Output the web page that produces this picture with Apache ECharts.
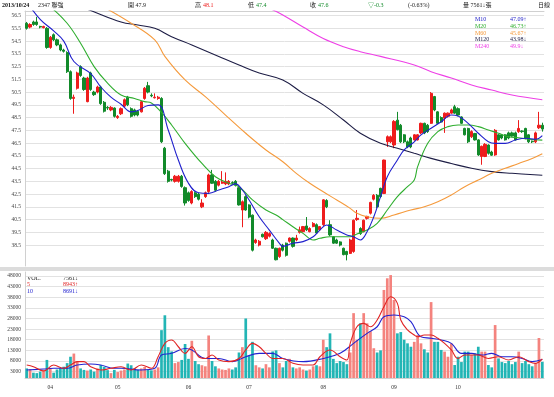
<!DOCTYPE html>
<html>
<head>
<meta charset="utf-8">
<script src="https://cdn.jsdelivr.net/npm/echarts@6/dist/echarts.min.js"></script>
<style>
  html, body { margin: 0; padding: 0; background: #fff; }
  #chart { width: 554px; height: 397px; }
</style>
</head>
<body>
<div id="chart"></div>
<script>
// 日K資料：[開, 收, 低, 高]
const candles = [
  [55.9, 55.5, 55.4, 56.0], [55.6, 55.8, 55.5, 55.9], [56.0, 55.8, 55.7, 56.1], [56.0, 55.8, 55.7, 56.4],
  [55.65, 55.6, 55.5, 55.7], [55.55, 55.65, 55.5, 55.7], [55.5, 54.0, 53.9, 55.6], [54.0, 54.8, 53.9, 54.9],
  [55.0, 54.6, 54.5, 55.1], [54.6, 54.2, 54.1, 54.7], [54.2, 53.8, 53.7, 54.3], [53.8, 53.7, 53.6, 53.9],
  [53.6, 52.1, 52.0, 53.7], [52.1, 50.0, 49.9, 52.2], [50.0, 50.1, 48.8, 50.3], [50.8, 52.0, 50.7, 52.1],
  [52.5, 51.8, 51.7, 52.6], [51.6, 50.7, 50.6, 51.7], [49.75, 51.6, 49.7, 51.7], [52.0, 50.7, 50.6, 52.1],
  [50.5, 50.3, 50.2, 50.6], [50.5, 50.9, 50.4, 51.0], [50.9, 49.6, 49.5, 51.0], [49.7, 49.0, 48.9, 49.8],
  [49.3, 49.25, 49.1, 49.4], [49.1, 49.3, 49.0, 49.4], [49.25, 48.6, 48.5, 49.3], [48.5, 48.6, 48.4, 48.7],
  [48.8, 49.2, 48.7, 49.3], [49.4, 49.9, 49.3, 50.0], [50.1, 49.5, 49.4, 50.2], [49.2, 48.6, 48.5, 49.3],
  [49.1, 48.7, 48.6, 49.2], [49.0, 48.7, 48.6, 49.1], [48.95, 49.75, 48.9, 49.8], [50.0, 50.8, 49.9, 50.9],
  [51.0, 50.5, 50.4, 51.3], [50.25, 50.2, 50.1, 50.4], [50.05, 50.1, 50.0, 50.4], [50.0, 50.1, 49.9, 50.2],
  [50.0, 46.6, 46.5, 50.1], [46.1, 44.1, 44.0, 46.2], [44.3, 43.5, 43.4, 44.4], [43.65, 43.6, 43.5, 43.7],
  [43.5, 43.9, 43.4, 44.0], [43.5, 43.9, 43.4, 44.0], [43.9, 43.1, 43.0, 44.0], [43.0, 41.8, 41.6, 43.1],
  [42.6, 42.0, 41.9, 42.7], [41.8, 42.7, 41.7, 42.8], [42.6, 42.3, 42.2, 42.7], [42.5, 42.1, 42.0, 42.6],
  [41.5, 41.8, 41.4, 42.1], [42.3, 42.6, 42.2, 42.7], [42.7, 44.0, 42.6, 44.1], [44.0, 43.35, 43.3, 44.4],
  [43.5, 42.8, 42.7, 43.6], [43.2, 43.5, 43.1, 43.6], [43.35, 43.45, 43.3, 44.3], [43.3, 43.5, 43.2, 44.2],
  [43.3, 43.5, 43.2, 43.6], [43.4, 43.35, 43.3, 43.5], [43.5, 43.2, 43.1, 43.6], [43.0, 41.65, 41.6, 43.1],
  [41.25, 41.9, 39.9, 42.0], [42.3, 41.25, 41.2, 42.4], [41.65, 40.7, 40.6, 41.7], [40.85, 38.1, 38.0, 40.9],
  [38.7, 38.9, 38.6, 39.0], [38.5, 38.8, 38.4, 38.9], [39.35, 39.15, 39.1, 39.4], [39.0, 39.5, 38.9, 39.6],
  [39.2, 39.4, 39.1, 39.5], [38.9, 38.25, 38.2, 39.0], [38.25, 37.35, 37.3, 38.3], [37.6, 38.25, 37.5, 38.3],
  [38.5, 38.1, 38.0, 38.6], [38.65, 37.7, 37.6, 38.7], [38.8, 39.05, 38.7, 39.1], [39.05, 38.4, 38.3, 39.1],
  [38.9, 39.05, 38.8, 39.3], [39.5, 39.7, 39.4, 39.95], [39.55, 39.95, 39.5, 40.0], [40.0, 39.7, 39.6, 40.7],
  [39.55, 39.8, 39.5, 39.9], [39.95, 40.2, 39.9, 40.3], [40.1, 39.45, 39.4, 40.2], [39.7, 39.95, 39.6, 40.0],
  [40.1, 42.05, 40.0, 42.1], [42.0, 41.5, 41.4, 42.1], [40.1, 39.3, 39.2, 40.45], [39.15, 38.65, 38.6, 39.2],
  [38.9, 38.65, 38.6, 39.0], [38.75, 38.5, 38.4, 38.8], [38.25, 37.75, 37.7, 38.3], [38.0, 37.75, 37.3, 38.05],
  [37.85, 38.9, 37.8, 39.0], [38.0, 40.45, 37.9, 40.5], [40.5, 40.6, 40.4, 41.25], [39.8, 39.4, 39.3, 39.9],
  [39.55, 40.45, 39.5, 40.5], [40.6, 40.75, 40.5, 40.8], [41.0, 41.85, 40.9, 41.9], [42.1, 42.4, 42.0, 42.5],
  [42.4, 41.5, 41.4, 42.5], [42.95, 42.3, 42.2, 43.0], [42.55, 45.17, 42.5, 45.2], [46.6, 47.0, 46.2, 47.1],
  [46.6, 47.0, 46.5, 47.1], [46.35, 48.2, 46.1, 48.3], [48.3, 47.55, 47.5, 48.95], [47.9, 46.6, 46.5, 48.0],
  [47.15, 46.6, 46.5, 47.2], [46.6, 46.2, 46.1, 46.7], [46.9, 46.2, 46.1, 47.0], [46.75, 47.15, 46.7, 47.2],
  [46.75, 47.15, 46.7, 47.2], [47.3, 48.05, 47.2, 48.1], [48.05, 47.3, 47.2, 48.1], [47.9, 47.4, 47.3, 48.0],
  [48.05, 50.4, 48.0, 50.5], [50.15, 49.1, 49.0, 50.2], [48.95, 48.05, 48.0, 49.0], [48.5, 48.15, 48.1, 48.6],
  [48.45, 48.85, 47.3, 48.9], [48.6, 48.85, 48.5, 48.9], [48.85, 49.1, 48.8, 49.2], [49.35, 48.85, 48.8, 49.5],
  [49.2, 48.7, 48.6, 49.3], [48.55, 48.05, 48.0, 48.6], [47.65, 47.15, 47.1, 47.7], [47.65, 46.6, 46.5, 47.7],
  [47.0, 47.4, 46.9, 47.5], [47.25, 46.75, 46.7, 47.3], [46.75, 45.57, 45.5, 46.8], [45.45, 46.25, 44.8, 46.3],
  [45.45, 46.4, 45.4, 46.5], [46.35, 45.7, 45.6, 46.4], [45.8, 45.55, 45.5, 45.9], [45.57, 47.5, 45.5, 47.6],
  [47.15, 46.75, 46.7, 47.2], [47.15, 46.9, 46.8, 47.2], [47.15, 46.75, 46.7, 47.2], [47.3, 46.9, 46.8, 47.4],
  [47.3, 47.05, 47.0, 47.4], [47.3, 46.75, 46.7, 47.4], [47.4, 47.65, 47.3, 48.3], [47.45, 47.4, 47.3, 47.5],
  [47.65, 46.9, 46.8, 47.7], [47.15, 46.6, 46.5, 47.2], [46.65, 46.6, 46.5, 46.7], [46.6, 47.3, 46.5, 47.4],
  [47.7, 47.9, 47.6, 48.95], [47.9, 47.6, 47.4, 48.1]
];

// 成交量（張）
const volumes = [
  4500, 4200, 2500, 2300, 3000, 3800, 8500, 4500, 2500, 4000,
  4600, 5300, 7000, 10000, 11500, 8000, 4500, 3800, 3500, 4000,
  3000, 4500, 6100, 5300, 3700, 2300, 3800, 2800, 3500, 4000,
  6800, 6000, 4500, 3800, 4500, 5200, 3800, 3600, 4000, 5000,
  22500, 29500, 14500, 12500, 7000, 7500, 8500, 16000, 9000, 17500,
  8000, 6500, 6000, 5500, 20000, 8000, 5500, 4500, 4000, 3800,
  4500, 4000, 5000, 12000, 14500, 28000, 10500, 17000, 6000, 5000,
  4500, 6500, 5000, 12500, 13000, 7000, 5000, 8000, 9000, 5000,
  4500, 5000, 4000, 3500, 4000, 5500, 6000, 5500, 18000, 14500,
  21000, 9000, 7000, 8000, 7500, 6500, 12000, 30500, 18000, 25700,
  30500, 25700, 22000, 14000, 12000, 13000, 41400, 46900, 48400, 36700,
  21000, 21600, 18000, 16300, 14700, 17000, 20200, 16300, 13500, 12000,
  35700, 17000, 17000, 13200, 12400, 10000, 16300, 6100, 10000, 7500,
  12400, 12400, 10800, 11600, 14700, 12400, 12400, 6100, 5000, 24900,
  9200, 7500, 7000, 8000, 6500, 7500, 12400, 7000, 8000, 6500,
  5500, 7000, 18800, 7561
];

// 均線（讀圖取點：[第幾日, 值]）
const ma10 = [[0, 57.6], [4, 56.2], [8, 55.3], [11, 54.5], [14, 52.9], [19, 51.95], [22, 50.9], [25, 50.1],
  [28, 49.55], [31, 48.95], [33, 49.05], [36, 49.45], [39, 49.5], [42, 47.53], [45, 45.17], [48, 43.35],
  [51, 42.6], [54, 42.56], [57, 42.82], [60, 43.08], [62, 43.3], [64, 42.82], [66, 42.04], [69, 40.72],
  [72, 39.68], [75, 38.64], [76, 38.4], [79, 38.64], [82, 38.77], [85, 39.16], [87, 39.68], [89, 40.08],
  [92, 39.68], [95, 39.3], [97, 39.16], [99, 38.9], [101, 39.55], [103, 40.72], [105, 42.3], [107, 43.86],
  [110, 45.17], [112, 45.96], [115, 46.6], [117, 47.14], [120, 47.66], [123, 48.18], [126, 48.7], [128, 48.62],
  [131, 48.05], [134, 47.27], [137, 46.61], [139, 46.48], [142, 46.48], [145, 46.74], [148, 46.88], [151, 46.8],
  [153, 47.09]];
const ma20 = [[7, 57.2], [12, 55.9], [16, 54.33], [20, 52.5], [24, 51.2], [28, 50.27], [32, 50.0], [35, 49.75],
  [37, 49.65], [40, 48.9], [43, 47.92], [47, 46.48], [52, 44.9], [56, 43.86], [60, 43.35], [63, 43.08],
  [67, 42.04], [71, 41.25], [74, 40.86], [76, 40.5], [79, 39.94], [82, 39.42], [85, 38.9], [87, 39.03],
  [90, 39.16], [93, 39.16], [96, 39.16], [98, 39.37], [101, 39.68], [104, 40.2], [107, 41.25], [110, 42.3],
  [113, 43.08], [115, 43.6], [116, 44.65], [119, 46.48], [122, 47.4], [125, 47.79], [128, 47.92], [131, 47.92],
  [134, 47.79], [137, 47.53], [140, 47.27], [143, 47.0], [146, 46.92], [149, 46.8], [153, 46.73]];
const ma60 = [[24, 57.0], [31, 55.9], [38, 54.6], [41, 53.3], [47, 51.45], [53, 50.14], [59, 48.7], [65, 47.27],
  [71, 45.96], [76, 45.04], [80, 44.13], [84, 43.35], [88, 42.68], [92, 42.04], [96, 41.38], [98, 40.99],
  [101, 40.72], [105, 40.6], [109, 40.86], [114, 41.25], [118, 41.5], [122, 41.9], [126, 42.43], [130, 43.08],
  [134, 43.6], [138, 44.13], [142, 44.52], [146, 44.9], [150, 45.3], [153, 45.67]];
const ma120 = [[17, 57.1], [19, 56.9], [28, 56.0], [33, 55.76], [38, 55.5], [43, 54.85], [49, 54.2], [57, 53.3],
  [63, 52.63], [69, 52.0], [76, 51.45], [82, 50.4], [88, 49.5], [94, 48.31], [99, 47.27], [105, 46.48],
  [110, 46.1], [115, 45.7], [120, 45.3], [126, 44.9], [132, 44.52], [138, 44.26], [144, 44.13], [153, 43.98]];
const ma240 = [[71, 57.2], [73, 56.95], [76, 56.55], [82, 55.6], [88, 54.7], [94, 54.06], [99, 53.67],
  [105, 53.3], [115, 52.63], [120, 52.1], [126, 51.6], [132, 51.06], [138, 50.66], [144, 50.27], [153, 49.9]];

// 量均線
const vma5 = [[0, 6100], [2, 5300], [5, 3300], [8, 6100], [11, 4550], [13, 6100], [15, 7700], [17, 7700],
  [19, 5300], [22, 3760], [25, 4550], [28, 5300], [31, 3760], [34, 6100], [37, 4550], [39, 10000], [41, 16300],
  [43, 17900], [45, 14700], [47, 11600], [49, 14700], [51, 10000], [53, 9200], [55, 10800], [57, 8460],
  [60, 7700], [63, 9200], [65, 13200], [67, 16300], [69, 14700], [71, 11600], [73, 9200], [76, 9200],
  [79, 6900], [82, 6100], [85, 6100], [87, 10000], [90, 13200], [93, 10000], [95, 8460], [96, 16300],
  [98, 24100], [100, 25700], [102, 24100], [104, 27300], [106, 33500], [108, 38200], [110, 35100],
  [111, 27300], [113, 22600], [115, 20200], [116, 19400], [118, 20200], [120, 20200], [122, 18700],
  [124, 16300], [126, 13200], [128, 9200], [130, 10800], [134, 10800], [137, 9200], [140, 10000],
  [143, 8460], [146, 10000], [149, 7700], [151, 6900], [153, 8943]];
const vma10 = [[0, 3760], [5, 4200], [8, 4550], [12, 4550], [15, 6100], [19, 6600], [22, 6100], [26, 4550],
  [28, 4550], [34, 3760], [38, 4550], [40, 10800], [43, 11600], [47, 13900], [49, 13200], [53, 9200],
  [57, 9200], [61, 7700], [65, 10000], [69, 11600], [73, 11600], [76, 9200], [82, 7700], [88, 9200],
  [93, 11600], [97, 16300], [101, 21000], [104, 24100], [106, 28800], [109, 29600], [112, 28800],
  [114, 26500], [117, 19400], [120, 18700], [123, 17900], [126, 16300], [129, 11600], [132, 11600],
  [135, 10800], [138, 11600], [141, 10000], [144, 10000], [147, 9200], [150, 7700], [153, 8691]];

// 刻度
const monthLabels = ['04', '05', '06', '07', '08', '09', '10'];
const monthIdx = [7, 27, 48, 66, 88, 109, 128];
const priceTicks = [38.5, 39.5, 40.5, 41.5, 42.5, 43.5, 44.5, 45.5, 46.5, 47.5, 48.5, 49.5, 50.5, 51.5, 52.5, 53.5, 54.5, 55.5, 56.5];
const volTicks = [3000, 8000, 13000, 18000, 23000, 28000, 33000, 38000, 43000, 48000];

const UP = '#ee1c1c';
const DOWN = '#128a2a';
const VOL_UP = '#f4837e';
const VOL_DOWN = '#22b5b5';
const FONT = '"Liberation Serif", "Noto Sans CJK TC", serif';

const days = candles.map((c, i) => {
    const k = monthIdx.indexOf(i);
    return k >= 0 ? monthLabels[k] : String(i);
});

// 紅漲綠跌
const volData = volumes.map((v, i) => ({
    value: v,
    itemStyle: { color: candles[i][1] >= candles[i][0] ? VOL_UP : VOL_DOWN }
}));

function maLine(data, color, xi, yi, width) {
    return {
        type: 'line', data: data, xAxisIndex: xi, yAxisIndex: yi,
        smooth: 0.4, symbol: 'none', silent: true,
        lineStyle: { color: color, width: width || 1.1 }
    };
}

function txt(x, y, s, color, opts) {
    return Object.assign({
        type: 'text', x: x, y: y, silent: true,
        style: { text: s, fill: color || '#222', font: '6px ' + FONT, verticalAlign: 'middle' }
    }, opts || {});
}

const chart = echarts.init(document.getElementById('chart'), null, { renderer: 'canvas' });

const gridStyle = { lineStyle: { color: '#e2e2e2', width: 1 } };

chart.setOption({
    animation: false,
    backgroundColor: '#fff',
    grid: [
        { left: 25, right: 10, top: 11, height: 255 },
        { left: 25, right: 10, top: 272, height: 106 }
    ],
    xAxis: [
        {
            type: 'category', gridIndex: 0, data: days, boundaryGap: true, position: 'top',
            axisLine: { lineStyle: { color: '#d0d0d0' } },
            axisTick: { show: false }, axisLabel: { show: false }, splitLine: { show: false }
        },
        {
            type: 'category', gridIndex: 1, data: days, boundaryGap: true,
            axisLine: { lineStyle: { color: '#d0d0d0' } },
            axisTick: { show: false },
            axisLabel: {
                interval: (i) => monthIdx.indexOf(i) >= 0,
                fontSize: 5.5, fontFamily: FONT, color: '#333', margin: 7
            },
            splitLine: { show: false }
        }
    ],
    yAxis: [
        {
            type: 'value', gridIndex: 0, min: 36.86, max: 56.86,
            axisLine: { show: true, lineStyle: { color: '#d0d0d0' } },
            axisTick: { show: false, customValues: priceTicks },
            axisLabel: {
                customValues: priceTicks, formatter: (v) => v.toFixed(1),
                fontSize: 5.5, fontFamily: FONT, color: '#444', margin: 4
            },
            splitLine: gridStyle
        },
        {
            type: 'value', gridIndex: 1, min: 0, max: 49850,
            axisLine: { show: true, lineStyle: { color: '#d0d0d0' } },
            axisTick: { show: false, customValues: volTicks },
            axisLabel: {
                customValues: volTicks, formatter: (v) => String(v),
                fontSize: 5.5, fontFamily: FONT, color: '#444', margin: 4
            },
            splitLine: gridStyle
        }
    ],
    series: [
        {
            type: 'candlestick', data: candles, xAxisIndex: 0, yAxisIndex: 0, barWidth: '80%',
            itemStyle: { color: UP, color0: DOWN, borderColor: UP, borderColor0: DOWN, borderWidth: 1 }
        },
        maLine(ma240, '#ee3fe6', 0, 0),
        maLine(ma120, '#1d1d45', 0, 0),
        maLine(ma60, '#f59a3c', 0, 0),
        maLine(ma20, '#2fae2f', 0, 0),
        maLine(ma10, '#1f1fcc', 0, 0),
        { type: 'bar', data: volData, xAxisIndex: 1, yAxisIndex: 1, barWidth: '80%' },
        maLine(vma10, '#2323d0', 1, 1),
        maLine(vma5, '#e02424', 1, 1)
    ],
    graphic: [
        { type: 'rect', shape: { x: 0, y: 267, width: 554, height: 4 }, style: { fill: '#dcdcdc' }, silent: true },
        // 標題列
        txt(2, 5, '2013/10/24', '#111', { style: { text: '2013/10/24', fill: '#111', font: 'bold 6px ' + FONT, verticalAlign: 'middle' } }),
        txt(38, 5, '2347 聯強'),
        txt(128, 5, '開 47.9'),
        txt(195, 5, '高', '#222'), txt(203, 5, '48.1', UP),
        txt(248, 5, '低', '#222'), txt(256, 5, '47.4', DOWN),
        txt(310, 5, '收', '#222'), txt(318, 5, '47.6', DOWN),
        txt(368, 5, '▽-0.3', DOWN),
        txt(408, 5, '(-0.63%)'),
        txt(463, 5, '量 7561↓張'),
        txt(538, 5, '日線'),
        // 均線圖例
        txt(475, 19, 'M10', '#2323c8'), txt(510, 19, '47.09↑', '#2323c8'),
        txt(475, 26, 'M20', '#2fae2f'), txt(510, 26, '46.73↑', '#2fae2f'),
        txt(475, 33, 'M60', '#f59a3c'), txt(510, 33, '45.67↑', '#f59a3c'),
        txt(475, 39, 'M120', '#1d1d45'), txt(510, 39, '43.98↓', '#1d1d45'),
        txt(475, 46, 'M240', '#ee3fe6'), txt(510, 46, '49.9↓', '#ee3fe6'),
        // 量圖例
        txt(27, 278, 'VOL.', '#222'), txt(63, 278, '7561↓', '#222'),
        txt(27, 284, '5', '#e02424'), txt(63, 284, '8943↑', '#e02424'),
        txt(27, 291, '10', '#2323d0'), txt(63, 291, '8691↓', '#2323d0')
    ]
});
</script>
</body>
</html>
